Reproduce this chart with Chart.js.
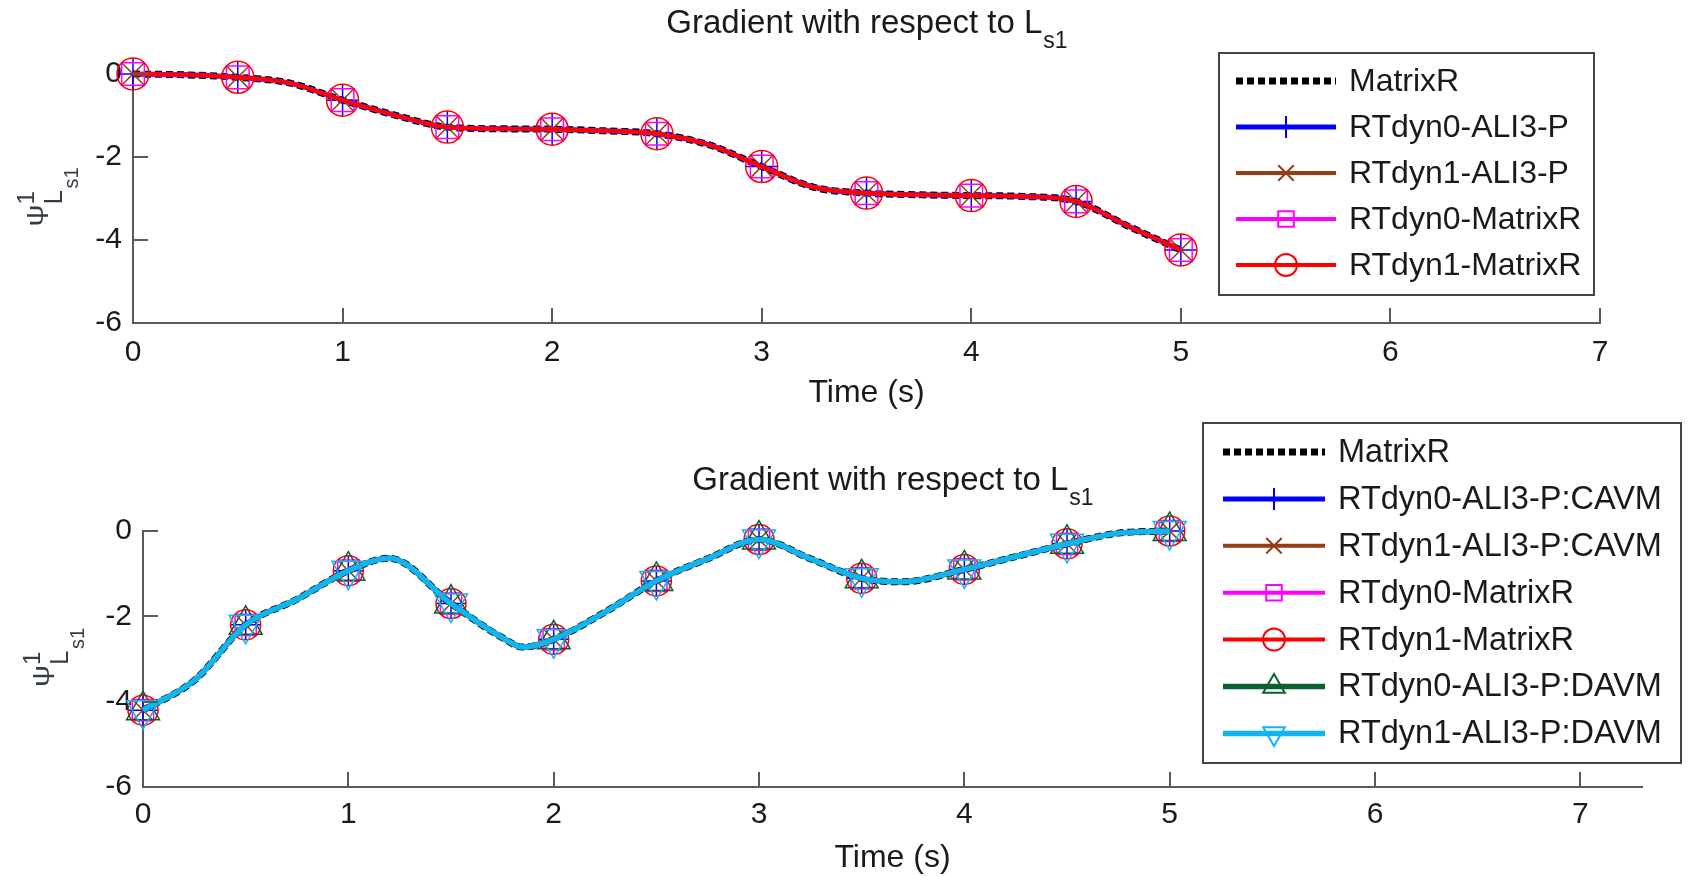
<!DOCTYPE html>
<html>
<head>
<meta charset="utf-8">
<script src="https://cdn.jsdelivr.net/npm/chart.js@4.4.1/dist/chart.umd.min.js"></script>
<style>
    html, body { margin: 0; padding: 0; background: #ffffff; overflow: hidden; }
    .panel { position: absolute; left: 0; width: 1699px; }
    #topPanel { top: 0; height: 420px; }
    #bottomPanel { top: 420px; height: 476px; }
</style>
</head>
<body>
<div class="panel" id="topPanel"><canvas id="topChart"></canvas></div>
<div class="panel" id="bottomPanel"><canvas id="bottomChart"></canvas></div>
<script>
// axis ticks
const xTicks = [0, 1, 2, 3, 4, 5, 6, 7];
const yTicks = [-6, -4, -2, 0];
// markers are only placed every 0.5 s
const markerTimes = [0, 0.5, 1, 1.5, 2, 2.5, 3, 3.5, 4, 4.5, 5];

// upper panel: all five series lie on top of each other
const topTimes = [0, 0.25, 0.5, 0.75, 1, 1.25, 1.5, 1.75, 2, 2.25, 2.5, 2.75, 3, 3.25, 3.5, 3.75, 4, 4.25, 4.5, 4.75, 5];
const topValues = [0, -0.02, -0.08, -0.22, -0.63, -0.99, -1.28, -1.32, -1.33, -1.37, -1.44, -1.71, -2.23, -2.73, -2.87, -2.91, -2.93, -2.95, -3.07, -3.67, -4.24];
const topLabels = ['MatrixR', 'RTdyn0-ALI3-P', 'RTdyn1-ALI3-P', 'RTdyn0-MatrixR', 'RTdyn1-MatrixR'];

// lower panel: all seven series lie on top of each other
const bottomTimes = [0, 0.25, 0.5, 0.75, 1, 1.2, 1.5, 1.75, 1.85, 2, 2.25, 2.5, 2.75, 3, 3.25, 3.5, 3.7, 4, 4.25, 4.5, 4.75, 5];
const bottomValues = [-4.2, -3.5, -2.2, -1.6, -0.93, -0.64, -1.7, -2.5, -2.72, -2.54, -1.9, -1.17, -0.65, -0.2, -0.65, -1.11, -1.19, -0.9, -0.6, -0.3, -0.05, 0];
const bottomLabels = ['MatrixR', 'RTdyn0-ALI3-P:CAVM', 'RTdyn1-ALI3-P:CAVM', 'RTdyn0-MatrixR', 'RTdyn1-MatrixR', 'RTdyn0-ALI3-P:DAVM', 'RTdyn1-ALI3-P:DAVM'];

const FONT = '"Liberation Sans", Arial, Helvetica, sans-serif';
const TEXT = '#1a1a1a';
const AXIS = '#5a5a5a';

const topStyles = [
    { color: '#000000', width: 7, dash: [7, 4] },
    { color: '#0000ff', width: 5, marker: 'cross' },
    { color: '#993d14', width: 4, marker: 'crossRot' },
    { color: '#ff00ff', width: 4, marker: 'rect' },
    { color: '#ff0000', width: 4, marker: 'circle' },
];
const bottomStyles = topStyles.concat([
    { color: '#0b6030', width: 5.5, marker: 'triangle' },
    { color: '#12b4f0', width: 5.5, marker: 'triangle', rotation: 180 },
]);

function drawMarker(ctx, style, x, y, radius, lineWidth) {
    if (! style.marker || ! Chart.helpers || ! Chart.helpers.drawPoint) {
        return;
    }
    ctx.save();
    ctx.strokeStyle = style.color;
    ctx.fillStyle = 'rgba(0,0,0,0)';
    ctx.lineWidth = lineWidth;
    ctx.setLineDash([]);
    Chart.helpers.drawPoint(ctx, {
        pointStyle: style.marker,
        rotation: style.rotation || 0,
        radius: radius,
        borderWidth: lineWidth,
    }, x, y);
    ctx.restore();
}

// MATLAB style ticks pointing into the axes
const insideTicks = {
    id: 'insideTicks',
    afterDraw(chart) {
        const { ctx, chartArea, scales } = chart;
        ctx.save();
        ctx.strokeStyle = AXIS;
        ctx.lineWidth = 2;
        ctx.beginPath();
        xTicks.forEach((v) => {
            const px = Math.round(scales.x.getPixelForValue(v));
            ctx.moveTo(px, chartArea.bottom);
            ctx.lineTo(px, chartArea.bottom - 15);
        });
        yTicks.forEach((v) => {
            const py = Math.round(scales.y.getPixelForValue(v));
            ctx.moveTo(chartArea.left, py);
            ctx.lineTo(chartArea.left + 15, py);
        });
        ctx.stroke();
        ctx.restore();
    },
};

// title with subscript, and the rotated psi label
const panelText = {
    id: 'panelText',
    afterDraw(chart, args, opts) {
        const { ctx, chartArea } = chart;
        ctx.save();
        ctx.fillStyle = TEXT;
        ctx.textAlign = 'left';
        ctx.textBaseline = 'alphabetic';

        const main = 'Gradient with respect to L';
        ctx.font = '33px ' + FONT;
        const w1 = ctx.measureText(main).width;
        ctx.font = '23px ' + FONT;
        const w2 = ctx.measureText('s1').width;
        const cx = (chartArea.left + chartArea.right) / 2;
        const base = chartArea.top - 41;
        const x0 = cx - (w1 + w2) / 2;
        ctx.font = '33px ' + FONT;
        ctx.fillText(main, x0, base);
        ctx.font = '23px ' + FONT;
        ctx.fillText('s1', x0 + w1 + 1, base + 15);

        const cy = (chartArea.top + chartArea.bottom) / 2;
        ctx.fillStyle = '#343c48';
        ctx.translate(opts.labelX, cy + 28);
        ctx.rotate(-Math.PI / 2);
        ctx.font = '30px ' + FONT;
        const wp = ctx.measureText('\u03C8').width;
        ctx.save();
        ctx.scale(22 / wp, 0.8);
        ctx.fillText('\u03C8', 0, 0);
        ctx.restore();
        ctx.font = '24px ' + FONT;
        ctx.fillText('1', 22, -9);
        ctx.font = '26px ' + FONT;
        ctx.fillText('L', 22, 19);
        ctx.font = '20px ' + FONT;
        ctx.fillText('s1', 38, 35);
        ctx.restore();
    },
};

// boxed legend floating at a fixed place, like the MATLAB one
const boxLegend = {
    id: 'boxLegend',
    afterDraw(chart, args, opts) {
        const { ctx } = chart;
        ctx.save();
        ctx.fillStyle = '#ffffff';
        ctx.fillRect(opts.left, opts.top, opts.right - opts.left, opts.bottom - opts.top);
        ctx.strokeStyle = '#444444';
        ctx.lineWidth = 2;
        ctx.strokeRect(opts.left, opts.top, opts.right - opts.left, opts.bottom - opts.top);

        chart.data.datasets.forEach((ds, i) => {
            const style = opts.styles[i];
            const y = opts.rowTop + i * opts.rowStep;
            ctx.beginPath();
            ctx.strokeStyle = style.color;
            ctx.lineWidth = style.width;
            ctx.setLineDash(style.dash || []);
            ctx.moveTo(opts.lineStart, y);
            ctx.lineTo(opts.lineEnd, y);
            ctx.stroke();
            ctx.setLineDash([]);
            drawMarker(ctx, style, (opts.lineStart + opts.lineEnd) / 2, y, style.marker === 'triangle' ? 12.5 : 11, 2);

            ctx.fillStyle = TEXT;
            ctx.font = opts.fontSize + 'px ' + FONT;
            ctx.textAlign = 'left';
            ctx.textBaseline = 'middle';
            ctx.fillText(ds.label, opts.textX, y + 1);
        });
        ctx.restore();
    },
};

function buildDatasets(labels, styles, times, values, markerSize) {
    return labels.map((label, i) => {
        const style = styles[i];
        return {
            label: label,
            data: times.map((t, k) => ({ x: t, y: values[k] })),
            borderColor: style.color,
            borderWidth: style.width,
            borderDash: style.dash || [],
            backgroundColor: 'transparent',
            cubicInterpolationMode: 'monotone',
            pointStyle: style.marker || false,
            pointRotation: style.rotation || 0,
            pointRadius: (ctx) => {
                if (! style.marker || ! ctx.raw || ! markerTimes.includes(ctx.raw.x)) {
                    return 0;
                }
                return style.marker === 'triangle' ? markerSize.triangle : markerSize.base;
            },
            pointBorderColor: style.color,
            pointBackgroundColor: 'transparent',
            pointBorderWidth: 1.5,
            order: labels.length - i,
            clip: false,
        };
    });
}

function initPanel(canvas, cfg) {
    new Chart(canvas, {
        type: 'line',
        data: {
            datasets: buildDatasets(cfg.labels, cfg.styles, cfg.times, cfg.values, cfg.markerSize),
        },
        options: {
            responsive: true,
            maintainAspectRatio: false,
            animation: false,
            events: [],
            layout: {
                padding: { left: 0, top: cfg.area.top, right: cfg.width - cfg.area.right, bottom: 0 },
            },
            plugins: {
                legend: { display: false },
                tooltip: { enabled: false },
                panelText: { labelX: cfg.labelX },
                boxLegend: cfg.legend,
            },
            scales: {
                x: {
                    type: 'linear',
                    min: 0,
                    max: cfg.xMax,
                    afterBuildTicks: (axis) => { axis.ticks = xTicks.map((v) => ({ value: v })); },
                    afterFit: (axis) => { axis.height = cfg.height - cfg.area.bottom; },
                    grid: { display: false, drawTicks: false },
                    border: { display: true, color: AXIS, width: 2 },
                    ticks: {
                        color: TEXT,
                        padding: cfg.xTickPad,
                        maxRotation: 0,
                        autoSkip: false,
                        font: { family: FONT, size: 30 },
                    },
                    title: {
                        display: true,
                        text: 'Time (s)',
                        color: TEXT,
                        font: { family: FONT, size: 32 },
                        padding: { top: 0, bottom: cfg.xTitlePad },
                    },
                },
                y: {
                    type: 'linear',
                    min: -6,
                    max: 0,
                    afterBuildTicks: (axis) => { axis.ticks = yTicks.map((v) => ({ value: v })); },
                    afterFit: (axis) => { axis.width = cfg.area.left; },
                    grid: { display: false, drawTicks: false },
                    border: { display: true, color: AXIS, width: 2 },
                    ticks: {
                        color: TEXT,
                        padding: 11,
                        font: { family: FONT, size: 30 },
                    },
                },
            },
        },
        plugins: [insideTicks, panelText, boxLegend],
    });
}

document.addEventListener('DOMContentLoaded', () => {
    initPanel(document.getElementById('topChart'), {
        width: 1699,
        height: 420,
        area: { left: 133, top: 74, right: 1600, bottom: 323 },
        xMax: 7,
        xTickPad: 12,
        xTitlePad: 8,
        labelX: 43,
        labels: topLabels,
        styles: topStyles,
        times: topTimes,
        values: topValues,
        markerSize: { base: 16, triangle: 19 },
        legend: {
            styles: topStyles,
            left: 1219, top: 53, right: 1594, bottom: 295,
            lineStart: 1236, lineEnd: 1336, textX: 1349,
            rowTop: 81, rowStep: 46, fontSize: 32,
        },
    });

    initPanel(document.getElementById('bottomChart'), {
        width: 1699,
        height: 476,
        area: { left: 143, top: 111, right: 1642, bottom: 367 },
        xMax: 7.3,
        xTickPad: 10,
        xTitlePad: 19,
        labelX: 49,
        labels: bottomLabels,
        styles: bottomStyles,
        times: bottomTimes,
        values: bottomValues,
        markerSize: { base: 15, triangle: 19 },
        legend: {
            styles: bottomStyles,
            left: 1203, top: 3, right: 1681, bottom: 343,
            lineStart: 1223, lineEnd: 1325, textX: 1338,
            rowTop: 32, rowStep: 46.9, fontSize: 32.5,
        },
    });
});
</script>
</body>
</html>
